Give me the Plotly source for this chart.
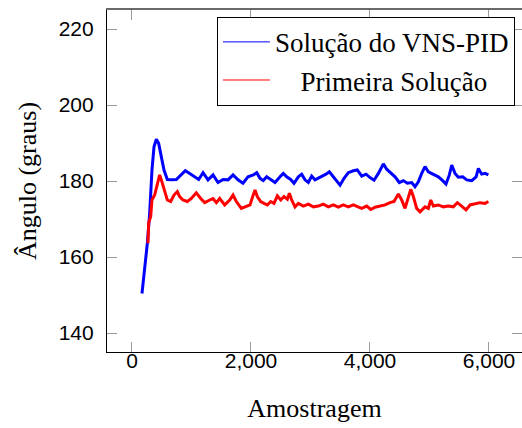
import plotly.graph_objects as go

# --- data -------------------------------------------------------------------
vns_x = [168, 213, 258, 297, 336, 370, 409, 448, 493, 538, 594, 661, 745, 829, 896,
         970, 1054, 1121, 1194, 1278, 1362, 1446, 1530, 1614, 1698, 1782, 1866, 1950,
         2040, 2096, 2152, 2207, 2264, 2332, 2404, 2488, 2543, 2600, 2667, 2723, 2796,
         2852, 2908, 2964, 3020, 3076, 3132, 3189, 3261, 3317, 3373, 3429, 3497, 3564,
         3636, 3720, 3787, 3861, 3934, 4001, 4068, 4141, 4225, 4281, 4349, 4421, 4493,
         4561, 4628, 4701, 4757, 4813, 4869, 4925, 4981, 5065, 5149, 5222, 5278, 5334,
         5374, 5429, 5485, 5559, 5626, 5710, 5783, 5822, 5878, 5934, 5990]
vns_y = [150.4, 156.6, 163.6, 171.5, 182.9, 189.0, 191.0, 189.9, 186.4, 182.9, 180.4,
         180.3, 180.4, 181.6, 182.7, 182.0, 181.1, 180.4, 182.2, 180.3, 181.6, 179.6,
         180.4, 180.3, 181.6, 180.3, 179.4, 181.1, 181.6, 182.2, 180.7, 180.1, 181.1,
         180.4, 179.6, 181.1, 182.0, 181.1, 180.4, 179.4, 181.1, 181.8, 180.3, 179.6,
         181.3, 180.3, 180.7, 181.3, 181.8, 182.4, 181.3, 180.3, 178.9, 180.7, 182.2,
         182.7, 182.9, 181.3, 181.8, 180.9, 180.2, 182.0, 184.5, 183.1, 182.2, 181.1,
         179.6, 180.1, 179.4, 179.6, 178.5, 179.8, 182.0, 183.8, 182.4, 181.8, 181.1,
         180.1, 179.2, 181.6, 184.2, 182.0, 181.0, 181.1, 180.3, 180.1, 181.1, 183.3,
         181.8, 182.0, 181.6]

first_x = [269, 280, 314, 336, 381, 425, 465, 493, 538, 594, 650, 706, 762, 801, 857,
           930, 997, 1081, 1155, 1222, 1306, 1362, 1418, 1474, 1558, 1642, 1698, 1754,
           1838, 1922, 1984, 2029, 2068, 2106, 2163, 2219, 2275, 2332, 2387, 2443, 2500,
           2555, 2611, 2645, 2684, 2740, 2796, 2880, 2964, 3048, 3132, 3216, 3300, 3384,
           3468, 3552, 3636, 3720, 3787, 3861, 3945, 4012, 4085, 4169, 4253, 4337, 4404,
           4477, 4533, 4589, 4645, 4685, 4729, 4785, 4841, 4925, 4981, 5021, 5065, 5149,
           5233, 5317, 5401, 5468, 5541, 5614, 5682, 5766, 5850, 5934, 5990]
first_y = [163.6, 169.0, 170.6, 175.0, 176.3, 179.4, 181.6, 180.3, 177.6, 175.0, 174.6,
           176.3, 177.2, 175.9, 175.0, 174.6, 175.4, 176.9, 175.4, 174.3, 175.0, 175.4,
           174.3, 175.4, 173.7, 175.0, 176.3, 174.6, 172.8, 173.4, 173.7, 175.9, 177.6,
           175.9, 174.6, 174.1, 173.7, 174.6, 174.1, 176.1, 175.0, 175.9, 175.2, 176.8,
           175.0, 173.2, 174.1, 173.4, 173.9, 173.2, 173.4, 173.9, 173.2, 173.7, 173.1,
           173.7, 173.2, 173.7, 173.2, 172.8, 173.4, 172.5, 173.1, 173.4, 173.7, 174.3,
           174.6, 176.6, 175.0, 172.8, 175.9, 177.8, 175.9, 172.8, 171.9, 173.2, 172.8,
           175.0, 173.4, 173.7, 173.2, 173.4, 173.2, 174.3, 173.4, 172.4, 173.7, 174.1,
           174.3, 174.1, 174.6]

series_names = ["Solução do VNS-PID", "\u00a0\u00a0\u00a0\u2009Primeira Solução"]
series_colors = ["#0000ff", "#ff0000"]

x_tickvals = [0, 2000, 4000, 6000]
x_ticktext = ["0", "2,000", "4,000", "6,000"]
y_tickvals = [140, 160, 180, 200, 220]

x_range = [-420, 6555]
y_range = [135, 225]

SERIF = "Liberation Serif, Times New Roman, serif"
SANS = "Liberation Sans, Arial, sans-serif"

fig = go.Figure()

# plotted curves (thick to mimic the noisy band)
fig.add_trace(go.Scatter(x=vns_x, y=vns_y, mode="lines", showlegend=False,
                         line=dict(color=series_colors[0], width=3)))
fig.add_trace(go.Scatter(x=first_x, y=first_y, mode="lines", showlegend=False,
                         line=dict(color=series_colors[1], width=3)))

# legend-only entries with thin sample lines
for name, color in zip(series_names, series_colors):
    fig.add_trace(go.Scatter(x=[None], y=[None], mode="lines", name=name,
                             xaxis="x2", yaxis="y2",
                             line=dict(color=color, width=1)))

tick_common = dict(ticks="inside", ticklen=10, tickwidth=1.2, tickcolor="#9a9a9a",
                   showgrid=False, zeroline=False, automargin=False)

fig.update_layout(
    width=522, height=428,
    margin=dict(l=107, r=0, t=10, b=76),
    paper_bgcolor="white", plot_bgcolor="white",
    xaxis=dict(range=x_range, tickvals=x_tickvals, ticktext=x_ticktext,
               showline=True, linecolor="black", linewidth=1.2,
               tickfont=dict(family=SANS, size=21, color="black"),
               ticklabelstandoff=-10,
               title=dict(text="Amostragem", font=dict(family=SERIF, size=26, color="black"),
                          standoff=27),
               **tick_common),
    yaxis=dict(range=y_range, tickvals=y_tickvals,
               showline=True, linecolor="black", linewidth=1.2,
               tickfont=dict(family=SANS, size=21, color="black"),
               ticklabelstandoff=8,
               title=dict(text="Ângulo (graus)", font=dict(family=SERIF, size=26, color="black"),
                          standoff=14),
               **tick_common),
    xaxis2=dict(overlaying="x", matches="x", side="top", range=x_range,
                tickvals=x_tickvals, showticklabels=False,
                showline=True, linecolor="#6a6a6a", linewidth=1.5, **tick_common),
    yaxis2=dict(overlaying="y", matches="y", side="right", range=y_range,
                tickvals=y_tickvals, showticklabels=False, showline=False,
                **tick_common),
    legend=dict(x=0.983, y=0.98, xanchor="right", yanchor="top",
                bgcolor="white", bordercolor="black", borderwidth=1,
                font=dict(family=SERIF, size=27, color="black"),
                tracegroupgap=0, itemwidth=47, entrywidth=254),
)

fig.write_html("out.html", config={"displayModeBar": False},
               post_script="document.body.style.margin='0';document.body.style.overflow='hidden';")
